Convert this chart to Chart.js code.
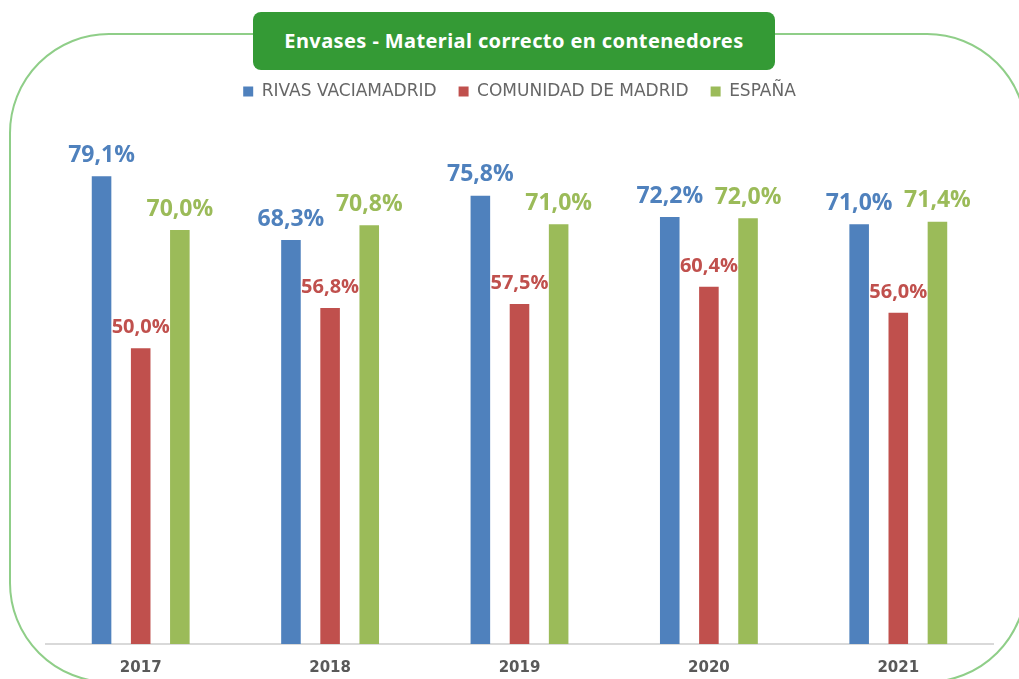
<!DOCTYPE html>
<html>
<head>
<meta charset="utf-8">
<script src="https://cdn.jsdelivr.net/npm/chart.js@4.4.0/dist/chart.umd.min.js"></script>
<style>
    html, body {
        margin: 0;
        padding: 0;
        background: #ffffff;
        overflow: hidden;
    }
    #wrap {
        position: relative;
        width: 1019px;
        height: 679px;
    }
    #frame {
        position: absolute;
        left: 9px;
        top: 33px;
        width: 1018px;
        height: 650px;
        border: 2px solid #8fce88;
        border-radius: 100px;
        box-sizing: border-box;
    }
    #titleBox {
        position: absolute;
        left: 253px;
        top: 12px;
        width: 522px;
        height: 58px;
        background: #349a35;
        border-radius: 8px;
        color: #ffffff;
        font-family: "Noto Sans", sans-serif;
        font-weight: bold;
        font-size: 20px;
        letter-spacing: 0.4px;
        line-height: 58px;
        text-align: center;
    }
    #chart {
        position: absolute;
        left: 0;
        top: 0;
    }
</style>
</head>
<body>
<div id="wrap">
    <div id="frame"></div>
    <div id="titleBox">Envases - Material correcto en contenedores</div>
    <canvas id="chart" width="1019" height="679"></canvas>
</div>
<script>
// Data
const years = ['2017', '2018', '2019', '2020', '2021'];
const rivas = [79.1, 68.3, 75.8, 72.2, 71.0];
const madrid = [50.0, 56.8, 57.5, 60.4, 56.0];
const espana = [70.0, 70.8, 71.0, 72.0, 71.4];

const BLUE = '#4f81bd';
const RED = '#c0504d';
const GREEN = '#9bbb59';

// Draws value labels above each bar
const valueLabels = {
    id: 'valueLabels',
    afterDatasetsDraw(chart) {
        const ctx = chart.ctx;
        ctx.save();
        ctx.textAlign = 'center';
        ctx.textBaseline = 'middle';
        chart.data.datasets.forEach((ds, i) => {
            const meta = chart.getDatasetMeta(i);
            ctx.fillStyle = ds.backgroundColor;
            ctx.font = (i === 1 ? 'bold 20px' : 'bold 23px') + ' "Open Sans", sans-serif';
            meta.data.forEach((bar, j) => {
                const txt = ds.data[j].toFixed(1).replace('.', ',') + '%';
                ctx.fillText(txt, bar.x, bar.y - 21);
            });
        });
        ctx.restore();
    }
};

const ctx = document.getElementById('chart').getContext('2d');
const chart = new Chart(ctx, {
    type: 'bar',
    data: {
        labels: years,
        datasets: [
            { label: 'RIVAS VACIAMADRID', data: rivas, backgroundColor: BLUE },
            { label: 'COMUNIDAD DE MADRID', data: madrid, backgroundColor: RED },
            { label: 'ESPAÑA', data: espana, backgroundColor: GREEN }
        ]
    },
    options: {
        responsive: false,
        animation: false,
        devicePixelRatio: 1,
        layout: {
            padding: { left: 46, right: 26, top: 61, bottom: -13 }
        },
        datasets: {
            bar: {
                categoryPercentage: 0.62,
                barPercentage: 0.5
            }
        },
        plugins: {
            legend: {
                display: true,
                position: 'top',
                labels: {
                    boxWidth: 10,
                    boxHeight: 10,
                    padding: 22,
                    color: '#666666',
                    font: { family: '"DejaVu Sans", sans-serif', size: 17 }
                }
            },
            tooltip: { enabled: false }
        },
        scales: {
            x: {
                grid: { display: false, drawTicks: false },
                border: { display: true, color: '#d9d9d9', width: 2 },
                ticks: {
                    padding: 15,
                    color: '#595959',
                    font: { family: '"DejaVu Sans", sans-serif', size: 15, weight: 'bold' }
                }
            },
            y: {
                display: false,
                min: 0,
                max: 90.3
            }
        }
    },
    plugins: [valueLabels]
});
</script>
</body>
</html>
